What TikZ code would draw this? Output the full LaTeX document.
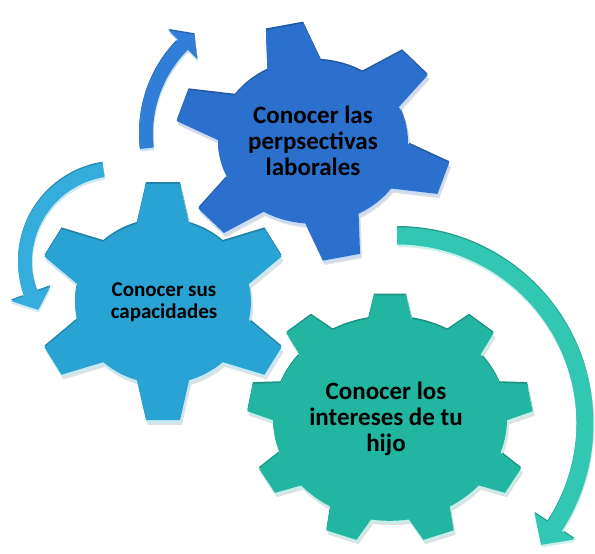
\documentclass[tikz,border=0pt]{standalone}
\usepackage{fontspec}
\setmainfont{Carlito}
\usepackage{xcolor}
\usepackage{tikz}

\definecolor{gearblue}{RGB}{44,112,206}
\definecolor{gearcyan}{RGB}{40,163,211}
\definecolor{gearteal}{RGB}{34,182,162}
\definecolor{arrowblue}{RGB}{48,126,216}
\definecolor{arrowcyan}{RGB}{52,172,220}
\definecolor{arrowteal}{RGB}{50,199,178}

% gear outline: body plus teeth (#1 body r, #2 tip r, #3/#4 half widths, #5 teeth, #6 first angle, #7 colour)
\newcommand{\gearfill}[7]{%
  \fill[#7] (0,0) circle[radius=#1];
  \foreach \k in {1,...,#5}
    \fill[#7, rotate={#6+(\k-1)*360/#5}] ({#1-8},-#3) -- (#2,-#4) -- (#2,#4) -- ({#1-8},#3) -- cycle;
}
% bevel look: dark top edge, light bottom edge
\newcommand{\gear}[7]{%
  \begin{scope}[shift={(2,-5)}]\gearfill{#1}{#2}{#3}{#4}{#5}{#6}{black!12}\end{scope}
  \begin{scope}[shift={(0,2)}]\gearfill{#1}{#2}{#3}{#4}{#5}{#6}{#7!80!black}\end{scope}
  \begin{scope}[shift={(1,-3.5)}]\gearfill{#1}{#2}{#3}{#4}{#5}{#6}{#7!25!white}\end{scope}
  \gearfill{#1}{#2}{#3}{#4}{#5}{#6}{#7}
}
% curved arrow (#1 r, #2 half width, #3 head half width, #4 start, #5 head base, #6 tip, #7 colour)
\newcommand{\arrowfill}[7]{%
  \fill[#7] (#4:{#1+#2}) arc[start angle=#4, end angle=#5, radius={#1+#2}]
    -- (#5:{#1+#3}) -- (#6:#1) -- (#5:{#1-#3}) -- (#5:{#1-#2})
    arc[start angle=#5, end angle=#4, radius={#1-#2}] -- cycle;
}
\newcommand{\cyclearrow}[7]{%
  \begin{scope}[shift={(0,1.5)}]\arrowfill{#1}{#2}{#3}{#4}{#5}{#6}{#7!80!black}\end{scope}
  \begin{scope}[shift={(0.5,-2.5)}]\arrowfill{#1}{#2}{#3}{#4}{#5}{#6}{#7!25!white}\end{scope}
  \arrowfill{#1}{#2}{#3}{#4}{#5}{#6}{#7}
}

\begin{document}
\begin{tikzpicture}[
    x=1pt, y=1pt,
    label/.style={align=center, text=black, font=\bfseries}
]
    \useasboundingbox (0,0) rectangle (595,554);
    \clip (0,0) rectangle (595,554);

    % arrows round the gears
    \begin{scope}[shift={(272,420)}]
        \cyclearrow{126}{7}{20.5}{186.5}{135}{128}{arrowblue}
    \end{scope}
    \begin{scope}[shift={(118,292)}]
        \cyclearrow{93}{7}{21}{99}{200}{211}{arrowcyan}
    \end{scope}
    \begin{scope}[shift={(397,130)}]
        \cyclearrow{188}{8.5}{24}{90}{-33}{-40}{arrowteal}
    \end{scope}

    % gears
    \begin{scope}[shift={(163,252)}, yscale=0.93]
        \gear{88}{127}{27}{17}{6}{90}{gearcyan}
    \end{scope}
    \begin{scope}[shift={(313,412)}, yscale=0.86]
        \gear{95}{137}{28}{19}{6}{102}{gearblue}
    \end{scope}
    \begin{scope}[shift={(390,135)}, yscale=0.87]
        \gear{117}{142}{23}{16}{9}{90}{gearteal}
    \end{scope}

    \node[label, font=\fontsize{25}{26}\selectfont\bfseries] (perspectivas) at (313,413) {Conocer las\\perpsectivas\\laborales};
    \node[label, font=\fontsize{21}{22.5}\selectfont\bfseries] (capacidades) at (164,251.5) {Conocer sus\\capacidades};
    \node[label, font=\fontsize{25}{26}\selectfont\bfseries] (intereses) at (386,135) {Conocer los\\intereses de tu\\hijo};
\end{tikzpicture}
\end{document}
